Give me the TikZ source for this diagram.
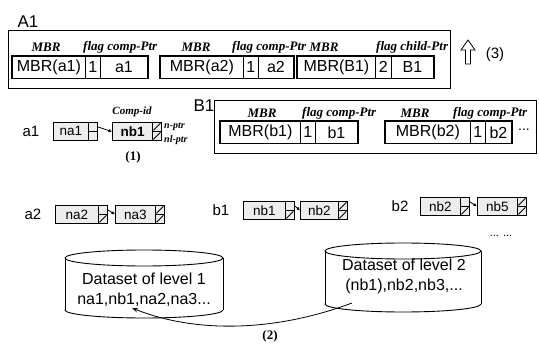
\documentclass[tikz,border=0pt]{standalone}
\usepackage{fontspec}
\setmainfont{Liberation Sans}
\newfontfamily\lserif{Liberation Serif}
\usetikzlibrary{arrows.meta}
\begin{document}
\begin{tikzpicture}[x=1pt,y=-1pt,
 every node/.style={inner sep=0pt},
 cell/.style={draw,line width=0.8pt,minimum height=22pt,anchor=north west,font=\fontsize{16}{16}\selectfont},
 grp/.style={draw,line width=1.4pt},
 frame/.style={draw,line width=1.1pt,anchor=north west},
 hdr/.style={font=\lserif\bfseries\itshape\fontsize{13}{13}\selectfont},
 lbl/.style={font=\fontsize{17}{17}\selectfont},
 rowlbl/.style={font=\fontsize{15}{15}\selectfont},
 item/.style={draw,line width=0.8pt,fill=black!7,minimum height=18pt,anchor=north west,font=\fontsize{13.5}{13.5}\selectfont},
 ptrok/.style={draw,line width=0.8pt,fill=black!7,minimum width=9pt,minimum height=9pt,anchor=north west},
 ptrnil/.style={ptrok,path picture={\draw[line width=0.8pt] ([shift={(1pt,1pt)}]path picture bounding box.south west) -- ([shift={(-1pt,-1pt)}]path picture bounding box.north east);}},
 note/.style={font=\lserif\bfseries\itshape\fontsize{10}{10}\selectfont},
 num/.style={font=\lserif\bfseries\fontsize{13}{13}\selectfont},
 arr/.style={line width=0.8pt,-{Latex[length=3.5pt,width=3.5pt]}},
 dstext/.style={align=center,font=\fontsize{16}{20}\selectfont}
]
\useasboundingbox (0,0) rectangle (539,345);

% ---------- A1 ----------
\node[lbl] (A1lbl) at (28,22) {A1};
\node[frame,minimum width=442pt,minimum height=58pt] (A1box) at (8,30) {};
\node[hdr] (h1) at (46,47) {MBR};
\node[hdr,anchor=west] (h2) at (83,47) {flag comp-Ptr};
\node[hdr] (h3) at (196,47) {MBR};
\node[hdr,anchor=west] (h4) at (232,47) {flag comp-Ptr};
\node[hdr] (h5) at (324,47) {MBR};
\node[hdr,anchor=west] (h6) at (376,47) {flag child-Ptr};

\node[cell,minimum width=73pt] (mbra1) at (12,56) {MBR(a1)};
\node[cell,minimum width=15pt] (fa1) at (85,56) {1};
\node[cell,minimum width=47pt] (pa1) at (100,56) {a1};
\draw[grp] (mbra1.north west) rectangle (pa1.south east);

\node[cell,minimum width=83pt] (mbra2) at (160,56) {MBR(a2)};
\node[cell,minimum width=15pt] (fa2) at (243,56) {1};
\node[cell,minimum width=35pt] (pa2) at (258,56) {a2};
\draw[grp] (mbra2.north west) rectangle (pa2.south east);

\node[cell,minimum width=78pt] (mbrB1) at (297,56) {MBR(B1)};
\node[cell,minimum width=16pt] (fB1) at (375,56) {2};
\node[cell,minimum width=42pt] (pB1) at (391,56) {B1};
\draw[grp] (mbrB1.north west) rectangle (pB1.south east);

\draw[line width=0.8pt,fill=white] (465.5,64) -- (465.5,50) -- (461,50) -- (468,40) -- (475,50) -- (470.5,50) -- (470.5,64) -- cycle;
\node[font=\fontsize{15}{15}\selectfont] (s3) at (495,55) {(3)};

% ---------- B1 ----------
\node[lbl] (B1lbl) at (204,106) {B1};
\node[frame,minimum width=322pt,minimum height=53pt] (B1box) at (214,100) {};
\node[hdr] (k1) at (262,113) {MBR};
\node[hdr,anchor=west] (k2) at (302,113) {flag comp-Ptr};
\node[hdr] (k3) at (415,113) {MBR};
\node[hdr,anchor=west] (k4) at (453,113) {flag comp-Ptr};

\node[cell,minimum width=80pt] (mbrb1) at (220,121) {MBR(b1)};
\node[cell,minimum width=15pt] (fb1) at (300,121) {1};
\node[cell,minimum width=42pt] (pb1) at (315,121) {b1};
\draw[grp] (mbrb1.north west) rectangle (pb1.south east);

\node[cell,minimum width=85pt] (mbrb2) at (385,121) {MBR(b2)};
\node[cell,minimum width=15pt] (fb2) at (470,121) {1};
\node[cell,minimum width=26pt] (pb2) at (485,121) {b2};
\draw[grp] (mbrb2.north west) rectangle (pb2.south east);
\node[font=\fontsize{14}{14}\selectfont] (more1) at (524,130) {...};

% ---------- row a1 ----------
\node[rowlbl] (la1) at (31,131) {a1};
\node[item,minimum width=35pt] (na1) at (53,122) {na1};
\node[ptrok] (na1t) at (88,122) {};
\node[ptrok] (na1b) at (88,131) {};
\node[item,minimum width=40pt,line width=1.3pt,font=\bfseries\fontsize{13.5}{13.5}\selectfont] (nb1) at (112,122) {nb1};
\node[ptrnil] (nb1t) at (152,122) {};
\node[ptrnil] (nb1b) at (152,131) {};
\draw[arr] (na1t.east) -- (nb1.west);
\node[note,font=\lserif\bfseries\itshape\fontsize{11}{11}\selectfont] (cid) at (132,112) {Comp-id};
\node[note,anchor=west] (nptr) at (164,127) {n-ptr};
\node[note,anchor=west] (nlptr) at (164,140) {nl-ptr};
\node[num] (s1) at (133,157) {(1)};

% ---------- row a2 ----------
\node[rowlbl] (la2) at (33,214) {a2};
\node[item,minimum width=43pt] (na2) at (55,205) {na2};
\node[ptrok] (na2t) at (98,205) {};
\node[ptrnil] (na2b) at (98,214) {};
\node[item,minimum width=40pt] (na3) at (115,205) {na3};
\node[ptrnil] (na3t) at (155,205) {};
\node[ptrnil] (na3b) at (155,214) {};
\draw[arr] (na2t.east) -- (na3.west);

% ---------- row b1 ----------
\node[rowlbl] (lb1) at (221,210) {b1};
\node[item,minimum width=42pt] (bnb1) at (243,201) {nb1};
\node[ptrok] (bnb1t) at (285,201) {};
\node[ptrnil] (bnb1b) at (285,210) {};
\node[item,minimum width=38pt] (bnb2) at (300,201) {nb2};
\node[ptrnil] (bnb2t) at (338,201) {};
\node[ptrnil] (bnb2b) at (338,210) {};
\draw[arr] (bnb1t.east) -- (bnb2.west);

% ---------- row b2 ----------
\node[rowlbl] (lb2) at (400,206) {b2};
\node[item,minimum width=40pt] (cnb2) at (420,197) {nb2};
\node[ptrok] (cnb2t) at (460,197) {};
\node[ptrnil] (cnb2b) at (460,206) {};
\node[item,minimum width=40pt] (cnb5) at (477,197) {nb5};
\node[ptrnil] (cnb5t) at (517,197) {};
\node[ptrnil] (cnb5b) at (517,206) {};
\draw[arr] (cnb2t.east) -- (cnb5.west);
\node[font=\fontsize{11}{11}\selectfont] (more2) at (501,236) {... ...};

% ---------- datasets ----------
\draw[line width=0.9pt,fill=white] (144,310) ellipse (79pt and 8pt);
\fill[white] (65,258) rectangle (223,310);
\draw[line width=0.9pt] (65,258) -- (65,310) (223,258) -- (223,310);
\draw[line width=0.9pt,fill=white] (144,258) ellipse (79pt and 8pt);
\node[dstext] (ds1) at (144,290) {Dataset of level 1\\na1,nb1,na2,na3...};

\draw[line width=0.9pt,fill=white] (403,304) ellipse (78pt and 8pt);
\fill[white] (325,251) rectangle (481,304);
\draw[line width=0.9pt] (325,251) -- (325,304) (481,251) -- (481,304);
\draw[line width=0.9pt,fill=white] (403,251) ellipse (78pt and 8pt);
\node[dstext] (ds2) at (404,276) {Dataset of level 2\\(nb1),nb2,nb3,...};

\coordinate (s2) at (352,303);
\coordinate (e1) at (132,308);
\draw[line width=0.8pt,-{Stealth[length=6pt,width=4.5pt]}] (s2) .. controls (280,330) and (200,335) .. (e1);
\node[num] (s2lbl) at (270,336) {(2)};
\end{tikzpicture}
\end{document}
